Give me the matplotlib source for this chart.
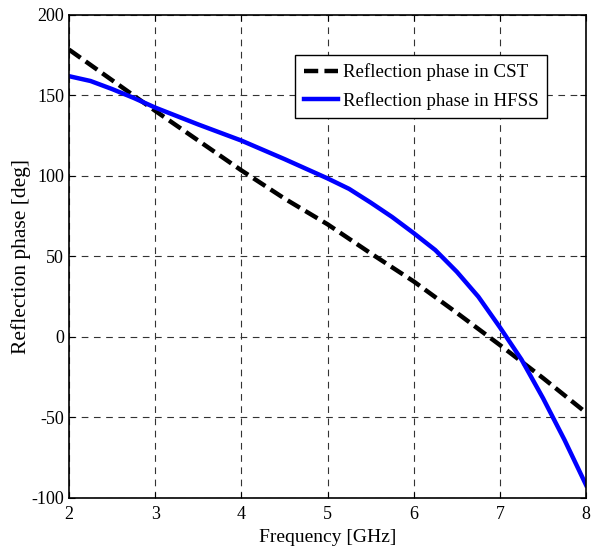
import matplotlib.pyplot as plt

plt.rcParams["font.family"] = ["Liberation Serif", "DejaVu Serif"]
plt.rcParams["font.size"] = 12
plt.rcParams["axes.unicode_minus"] = False

# reflection phase read per frequency (GHz -> deg)
freq_cst = [2.0, 2.5, 3.0, 3.5, 4.0, 4.5, 5.0, 5.5, 6.0, 6.5, 7.0, 7.5, 8.0]
phase_cst = [178.5, 159.5, 140.5, 122.0, 103.5, 86.0, 70.0, 52.0, 34.5, 15.0, -5.0, -25.5, -47.0]

freq_hfss = [2.0, 2.25, 2.5, 2.75, 3.0, 3.5, 4.0, 4.5, 5.0, 5.25, 5.5, 5.75, 6.0, 6.25, 6.5, 6.75, 7.0,
             7.25, 7.5, 7.75, 8.0]
phase_hfss = [162.0, 159.0, 154.0, 148.5, 142.5, 132.0, 122.0, 110.5, 98.5, 92.0, 83.5, 74.5, 64.5, 54.0,
              40.5, 25.0, 6.0, -14.0, -38.0, -64.0, -92.0]

xticks = [2, 3, 4, 5, 6, 7, 8]
yticks = [-100, -50, 0, 50, 100, 150, 200]

fig = plt.figure(figsize=(6.03, 5.49), dpi=100)
ax = fig.add_axes([0.1144, 0.0929, 0.8576, 0.8798])

ax.plot(freq_cst, phase_cst, color="black", linestyle=(0, (3.2, 1.4)), linewidth=3.2,
        label="Reflection phase in CST")
ax.plot(freq_hfss, phase_hfss, color="#0000ff", linewidth=3.2,
        label="Reflection phase in HFSS")

ax.set_xlim(2, 8)
ax.set_ylim(-100, 200)
ax.set_xticks(xticks)
ax.set_yticks(yticks)
ax.grid(True, color="#333333", linestyle=(0, (6, 5)), linewidth=0.8)
ax.tick_params(direction="in", top=True, right=True, labelsize=13, length=4)
ax.tick_params(axis="x", pad=6)
for s in ax.spines.values():
    s.set_linewidth(1.2)
    s.set_color("black")

ax.set_xlabel("Frequency [GHz]", fontsize=14, labelpad=4)
ax.set_ylabel("Reflection phase [deg]", fontsize=15.5, labelpad=0)

leg = ax.legend(loc="upper right", bbox_to_anchor=(0.925, 0.917), fontsize=13.6,
                fancybox=False, framealpha=1, edgecolor="black", handlelength=1.85,
                handletextpad=0.25, borderpad=0.45, labelspacing=0.55, borderaxespad=0)
leg.get_frame().set_linewidth(1.0)

fig.savefig("out.png", dpi=100)
